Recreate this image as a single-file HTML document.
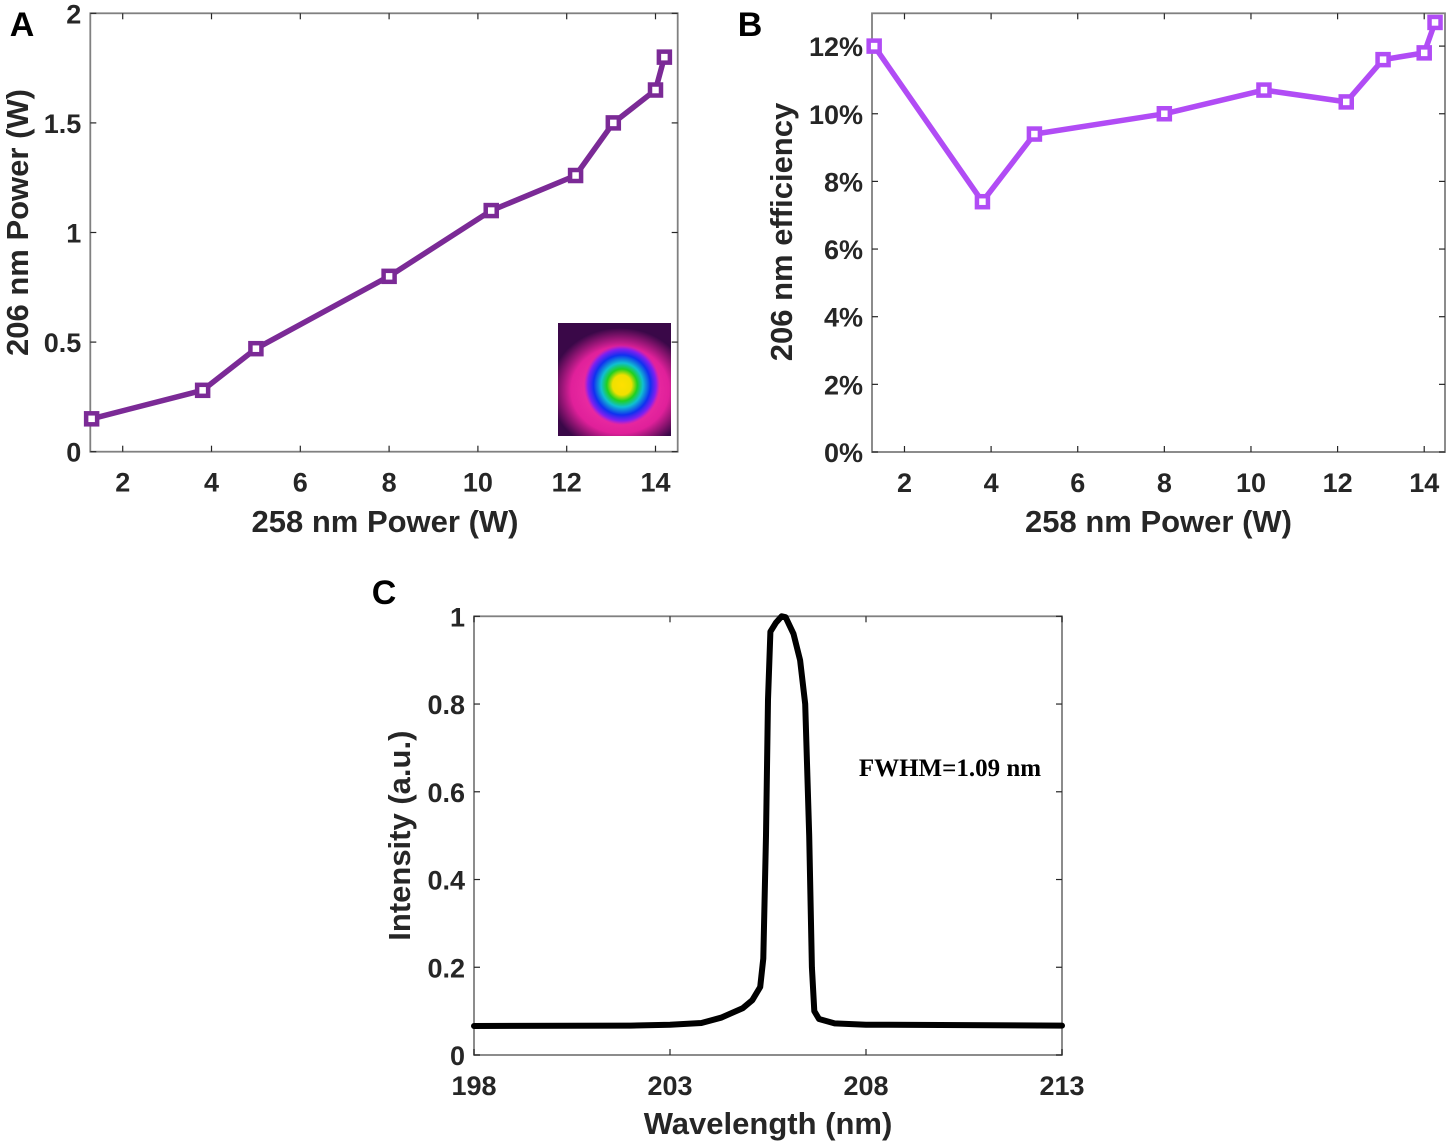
<!DOCTYPE html>
<html><head><meta charset="utf-8"><style>
html,body{margin:0;padding:0;background:#fff;}
svg{display:block;font-family:"Liberation Sans",Arial,sans-serif;}
.tick{font-size:27px;font-weight:bold;fill:#262626;}
.title{font-size:31px;font-weight:bold;fill:#262626;}
.panel{font-size:34px;font-weight:bold;fill:#000;}
</style></head><body>
<svg id="fig" width="1450" height="1144" viewBox="0 0 1450 1144" xmlns="http://www.w3.org/2000/svg">
<defs>
<radialGradient id="g1" cx="0.5" cy="0.5" r="0.5">
<stop offset="0" stop-color="#ff3fb0"/><stop offset="0.7" stop-color="#e0209a"/><stop offset="1" stop-color="#e0209a" stop-opacity="0"/>
</radialGradient>
<radialGradient id="g2" cx="0.5" cy="0.5" r="0.5">
<stop offset="0" stop-color="#ffe000"/><stop offset="0.25" stop-color="#f0e000"/><stop offset="0.4" stop-color="#20d020"/><stop offset="0.55" stop-color="#10c0d0"/><stop offset="0.75" stop-color="#1030f0"/><stop offset="0.9" stop-color="#8020f0"/><stop offset="1" stop-color="#a020e0" stop-opacity="0"/>
</radialGradient>
<clipPath id="insetclip"><rect x="558" y="323" width="113" height="113"/></clipPath>
</defs>
</svg>
<script>
// Panel A data
const aX = [1.3, 3.8, 5.0, 8.0, 10.3, 12.2, 13.05, 14.0, 14.2];
const aY = [0.15, 0.28, 0.47, 0.80, 1.10, 1.26, 1.50, 1.65, 1.80];
const aXTicks = [2, 4, 6, 8, 10, 12, 14];
const aYTicks = [0, 0.5, 1, 1.5, 2];
const aYTickLabels = ["0", "0.5", "1", "1.5", "2"];
// Panel B data
const bX = [1.3, 3.8, 5.0, 8.0, 10.3, 12.2, 13.05, 14.0, 14.25];
const bY = [12.0, 7.4, 9.4, 10.0, 10.7, 10.35, 11.6, 11.8, 12.7];
const bXTicks = [2, 4, 6, 8, 10, 12, 14];
const bYTicks = [0, 2, 4, 6, 8, 10, 12];
const bYTickLabels = ["0%", "2%", "4%", "6%", "8%", "10%", "12%"];
// Panel C data
const cX = [198, 202, 203, 203.8, 204.3, 204.86, 205.1, 205.3, 205.38, 205.45, 205.5, 205.56, 205.7, 205.85, 205.95, 206.15, 206.32, 206.45, 206.55, 206.62, 206.68, 206.8, 207.2, 208, 213];
const cY = [0.066, 0.067, 0.069, 0.073, 0.085, 0.107, 0.125, 0.155, 0.22, 0.5, 0.81, 0.965, 0.985, 1.0, 0.998, 0.96, 0.9, 0.8, 0.5, 0.2, 0.1, 0.082, 0.072, 0.069, 0.067];
const cXTicks = [198, 203, 208, 213];
const cYTicks = [0, 0.2, 0.4, 0.6, 0.8, 1];
const cYTickLabels = ["0", "0.2", "0.4", "0.6", "0.8", "1"];

const svg = document.getElementById('fig');
const NS = 'http://www.w3.org/2000/svg';
function mk(tag, attrs, parent) {
  const e = document.createElementNS(NS, tag);
  for (const k in attrs) e.setAttribute(k, attrs[k]);
  (parent || svg).appendChild(e);
  return e;
}
function scale(d0, d1, r0, r1) { return v => r0 + (v - d0) / (d1 - d0) * (r1 - r0); }

function axes(name, L, T, R, B, sx, sy, xt, xtl, yt, ytl, tickLen) {
  const g = mk('g', {});
  
  
  const box = mk('rect', {x: L, y: T, width: R - L, height: B - T, fill: 'none', stroke: '#808080', 'stroke-width': 1.8}, g);
  
  
  xt.forEach((v, i) => {
    const x = sx(v);
    mk('line', {x1: x, y1: B, x2: x, y2: B - tickLen, stroke: '#262626', 'stroke-width': 1.2}, g);
    mk('line', {x1: x, y1: T, x2: x, y2: T + tickLen, stroke: '#262626', 'stroke-width': 1.2}, g);
    const t = mk('text', {x: x, y: B + 40, 'text-anchor': 'middle', class: 'tick'}, g);
    t.textContent = xtl[i];
    
    
  });
  yt.forEach((v, i) => {
    const y = sy(v);
    mk('line', {x1: L, y1: y, x2: L + tickLen, y2: y, stroke: '#262626', 'stroke-width': 1.2}, g);
    mk('line', {x1: R, y1: y, x2: R - tickLen, y2: y, stroke: '#262626', 'stroke-width': 1.2}, g);
    const t = mk('text', {x: L - 9, y: y + 10, 'text-anchor': 'end', class: 'tick'}, g);
    t.textContent = ytl[i];
    
    
  });
}
function series(name, xs, ys, sx, sy, color, width, markers) {
  const pts = xs.map((v, i) => sx(v).toFixed(1) + ',' + sy(ys[i]).toFixed(1)).join(' ');
  const pl = mk('polyline', {points: pts, fill: 'none', stroke: color, 'stroke-width': width, 'stroke-linejoin': 'round', 'stroke-linecap': 'round'});
  
  
  if (markers) xs.forEach((v, i) => {
    const m = mk('rect', {x: sx(v) - 5.5, y: sy(ys[i]) - 5.5, width: 11, height: 11, fill: '#fff', stroke: color, 'stroke-width': 4.5});
    
    
  });
}
function text(str, x, y, cls, name, rot, extra) {
  const a = Object.assign({x: x, y: y, class: cls, 'text-anchor': 'middle'}, extra || {});
  if (rot) a.transform = 'rotate(-90 ' + x + ' ' + y + ')';
  const t = mk('text', a);
  t.textContent = str;
  
  
  return t;
}

// Panel A
{
  const L = 90.3, R = 677.7, T = 13.3, B = 451.7;
  const sx = scale(1.27, 14.5, L, R), sy = scale(0, 2, B, T);
  axes('panel-a', L, T, R, B, sx, sy, aXTicks, aXTicks.map(String), aYTicks, aYTickLabels, 6);
  const ig = mk('g', {'clip-path': 'url(#insetclip)'});
  
  
  mk('rect', {x: 558, y: 323, width: 113, height: 113, fill: '#3a0848'}, ig);
  mk('ellipse', {cx: 620, cy: 390, rx: 70, ry: 62, fill: 'url(#g1)'}, ig);
  mk('ellipse', {cx: 622, cy: 385, rx: 38, ry: 40, fill: 'url(#g2)'}, ig);
  series('panel-a-series', aX, aY, sx, sy, '#7b2a96', 5.5, true);
  text('258 nm Power (W)', (L + R) / 2 + 1, 532, 'title', 'panel-a-x-axis-title');
  text('206 nm Power (W)', 28, (T + B) / 2 - 10, 'title', 'panel-a-y-axis-title', true);
  text('A', 22, 36, 'panel', 'panel-a-label');
}
// Panel B
{
  const L = 872, R = 1445, T = 13.3, B = 452;
  const sx = scale(1.25, 14.48, L, R), sy = scale(0, 12.97, B, T);
  axes('panel-b', L, T, R, B, sx, sy, bXTicks, bXTicks.map(String), bYTicks, bYTickLabels, 6);
  series('panel-b-series', bX, bY, sx, sy, '#b14cf5', 5.5, true);
  text('258 nm Power (W)', (L + R) / 2, 532, 'title', 'panel-b-x-axis-title');
  text('206 nm efficiency', 792, 232, 'title', 'panel-b-y-axis-title', true);
  text('B', 750, 36, 'panel', 'panel-b-label');
}
// Panel C
{
  const L = 474, R = 1062, T = 616.3, B = 1055;
  const sx = scale(198, 213, L, R), sy = scale(0, 1, B, T);
  axes('panel-c', L, T, R, B, sx, sy, cXTicks, cXTicks.map(String), cYTicks, cYTickLabels, 6);
  series('panel-c-spectrum', cX, cY, sx, sy, '#000', 6, false);
  text('FWHM=1.09 nm', 950, 776, 'fwhm', 'fwhm-annotation', false, {style: 'font-family:"Liberation Serif",serif;font-weight:bold;font-size:25px;fill:#000'});
  text('Wavelength (nm)', (L + R) / 2, 1134, 'title', 'panel-c-x-axis-title');
  text('Intensity (a.u.)', 410, (T + B) / 2, 'title', 'panel-c-y-axis-title', true);
  text('C', 384, 604, 'panel', 'panel-c-label');
}
</script>
</body></html>
